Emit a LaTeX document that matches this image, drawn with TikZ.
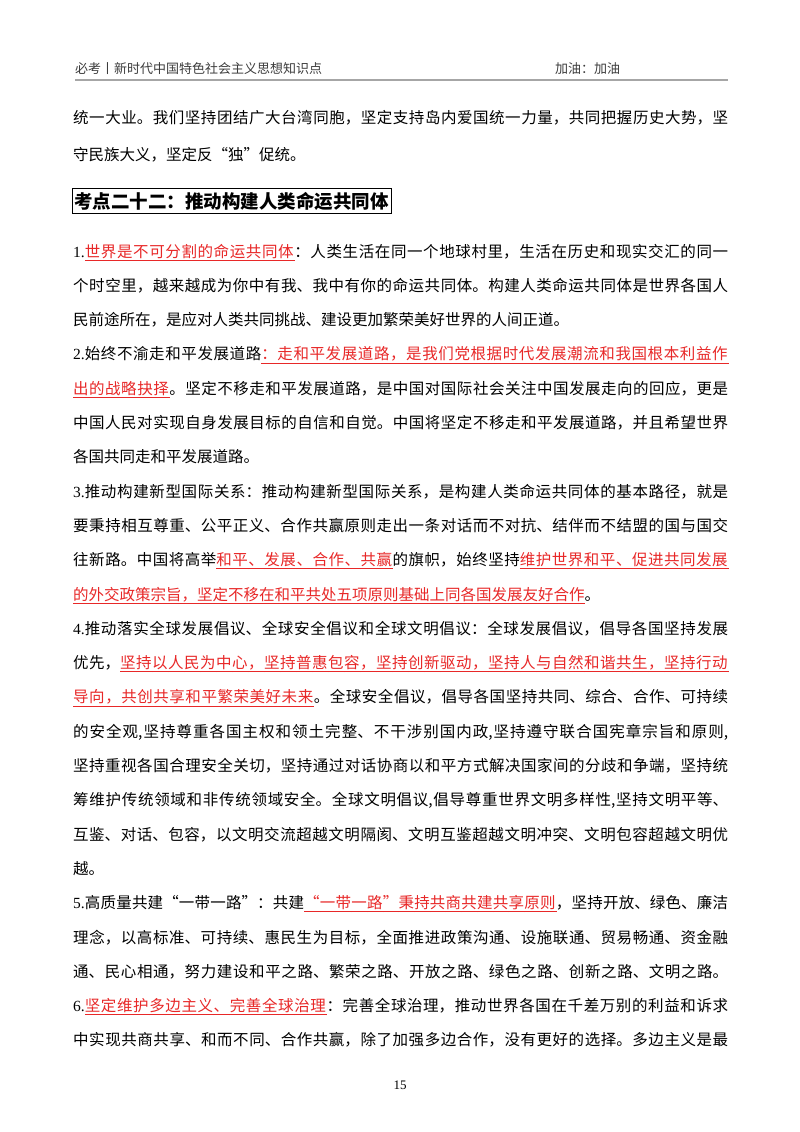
\documentclass[tikz,border=0pt]{standalone}
\usepackage{fontspec}
\usepackage{xcolor}
\setmainfont{Noto Sans CJK SC}
\newfontfamily\tm{Liberation Serif}
\definecolor{redu}{RGB}{232,40,40}
\definecolor{hdr}{RGB}{60,60,60}
\XeTeXlinebreaklocale "zh"
\XeTeXlinebreakskip=0pt plus 4pt minus 1pt
\newcommand{\uc}[1]{\setbox0\hbox{#1}\rlap{\rule[-3.4pt]{\wd0}{0.7pt}}\box0}
\newcommand{\Rglue}{\leaders\hrule height -2.7pt depth 3.4pt\hskip 0pt plus 4pt minus 1pt\relax}
\def\Rend{\Rend}
\def\Rloop#1{\ifx#1\Rend\else\uc{#1}\Rglue\expandafter\Rloop\fi}
\newcommand{\R}[1]{\leavevmode{\color{redu}\Rloop#1\Rend}}
\newcommand{\N}[1]{{\tm #1}}
\tikzset{txt/.style={anchor=base west,inner sep=0pt,font=\fontsize{15.5pt}{18pt}\selectfont}}
\newcommand{\Ln}[2]{\node[txt] at (73pt,{-(257+34.3*#1)*1pt}) {\parbox[b]{655pt}{\tolerance=10000\hbadness=10000\parfillskip=0pt\parindent=0pt\leavevmode #2}};}
\newcommand{\Lz}[2]{\node[txt] at (73pt,{-(257+34.3*#1)*1pt}) {#2};}
\begin{document}
\begin{tikzpicture}
\useasboundingbox[fill=white] (0,0) rectangle (800pt,-1132pt);
% header
\node[anchor=base west,inner sep=0pt,text=hdr,font=\fontsize{13pt}{15pt}\selectfont] (h1) at (75pt,-74pt) {必考丨新时代中国特色社会主义思想知识点};
\node[anchor=base west,inner sep=0pt,text=hdr,font=\fontsize{13pt}{15pt}\selectfont] (h2) at (555pt,-74pt) {加油：加油};
\draw[line width=2pt,gray!70] (75pt,-80pt) -- (728pt,-80pt);
% top paragraph
\node[txt] (t1) at (73pt,-123pt) {\parbox[b]{655pt}{\tolerance=10000\hbadness=10000\parfillskip=0pt\parindent=0pt 统一大业。我们坚持团结广大台湾同胞，坚定支持岛内爱国统一力量，共同把握历史大势，坚}};
\node[txt] (t2) at (73pt,-160pt) {守民族大义，坚定反“独”促统。};
% title
\node[draw,line width=0.8pt,anchor=west,inner xsep=2pt,inner ysep=3pt,font=\fontsize{18.5pt}{20pt}\selectfont\bfseries] (title) at (72pt,-201pt) {考点二十二：推动构建人类命运共同体};
% p1
\Ln{0}{\N{1.}\R{世界是不可分割的命运共同体}：人类生活在同一个地球村里，生活在历史和现实交汇的同一}
\Ln{1}{个时空里，越来越成为你中有我、我中有你的命运共同体。构建人类命运共同体是世界各国人}
\Lz{2}{民前途所在，是应对人类共同挑战、建设更加繁荣美好世界的人间正道。}
% p2
\Ln{3}{\N{2.}始终不渝走和平发展道路\R{：走和平发展道路，是我们党根据时代发展潮流和我国根本利益作}}
\Ln{4}{\R{出的战略抉择}。坚定不移走和平发展道路，是中国对国际社会关注中国发展走向的回应，更是}
\Ln{5}{中国人民对实现自身发展目标的自信和自觉。中国将坚定不移走和平发展道路，并且希望世界}
\Lz{6}{各国共同走和平发展道路。}
% p3
\Ln{7}{\N{3.}推动构建新型国际关系：推动构建新型国际关系，是构建人类命运共同体的基本路径，就是}
\Ln{8}{要秉持相互尊重、公平正义、合作共赢原则走出一条对话而不对抗、结伴而不结盟的国与国交}
\Ln{9}{往新路。中国将高举\R{和平、发展、合作、共赢}的旗帜，始终坚持\R{维护世界和平、促进共同发展}}
\Lz{10}{\R{的外交政策宗旨，坚定不移在和平共处五项原则基础上同各国发展友好合作}。}
% p4
\Ln{11}{\N{4.}推动落实全球发展倡议、全球安全倡议和全球文明倡议：全球发展倡议，倡导各国坚持发展}
\Ln{12}{优先，\R{坚持以人民为中心，坚持普惠包容，坚持创新驱动，坚持人与自然和谐共生，坚持行动}}
\Ln{13}{\R{导向，共创共享和平繁荣美好未来}。全球安全倡议，倡导各国坚持共同、综合、合作、可持续}
\Ln{14}{的安全观,坚持尊重各国主权和领土完整、不干涉别国内政,坚持遵守联合国宪章宗旨和原则,}
\Ln{15}{坚持重视各国合理安全关切，坚持通过对话协商以和平方式解决国家间的分歧和争端，坚持统}
\Ln{16}{筹维护传统领域和非传统领域安全。全球文明倡议,倡导尊重世界文明多样性,坚持文明平等、}
\Ln{17}{互鉴、对话、包容，以文明交流超越文明隔阂、文明互鉴超越文明冲突、文明包容超越文明优}
\Lz{18}{越。}
% p5
\Ln{19}{\N{5.}高质量共建“一带一路”：共建\R{“一带一路”秉持共商共建共享原则}，坚持开放、绿色、廉洁}
\Ln{20}{理念，以高标准、可持续、惠民生为目标，全面推进政策沟通、设施联通、贸易畅通、资金融}
\Ln{21}{通、民心相通，努力建设和平之路、繁荣之路、开放之路、绿色之路、创新之路、文明之路。}
% p6
\Ln{22}{\N{6.}\R{坚定维护多边主义、完善全球治理}：完善全球治理，推动世界各国在千差万别的利益和诉求}
\Ln{23}{中实现共商共享、和而不同、合作共赢，除了加强多边合作，没有更好的选择。多边主义是最}
% page number
\node[anchor=base,inner sep=0pt,font=\tm\fontsize{13pt}{15pt}\selectfont] (pg) at (400pt,-1089pt) {15};
\end{tikzpicture}
\end{document}
